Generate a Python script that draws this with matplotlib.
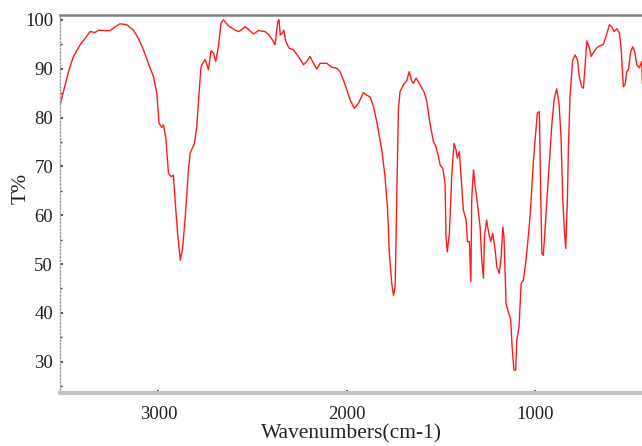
import matplotlib
matplotlib.use('Agg')
import matplotlib.pyplot as plt
from matplotlib.ticker import MultipleLocator

# IR spectrum (wavenumber, transmittance)
wavenumbers = [3520, 3505, 3478, 3452, 3416, 3390, 3363, 3337, 3319, 3283, 3257, 3230, 3204, 3169,
               3133, 3107, 3080, 3054, 3027, 3009, 2997, 2982, 2974, 2961, 2947, 2933, 2921, 2908,
               2897, 2884, 2873, 2859, 2841, 2832, 2809, 2797, 2788, 2775, 2770, 2752, 2735, 2721,
               2708, 2696, 2682, 2668, 2655, 2629, 2593, 2572, 2540, 2523, 2496, 2470, 2434, 2413,
               2395, 2381, 2366, 2360, 2353, 2342, 2335, 2324, 2306, 2284, 2257, 2230, 2212, 2195,
               2177, 2159, 2142, 2106, 2080, 2053, 2036, 2018, 2000, 1982, 1960, 1938, 1912, 1894,
               1876, 1859, 1841, 1814, 1797, 1784, 1774, 1761, 1752, 1743, 1738, 1731, 1726, 1717,
               1699, 1681, 1668, 1655, 1646, 1632, 1611, 1590, 1575, 1558, 1540, 1526, 1513, 1504,
               1490, 1478, 1473, 1466, 1455, 1442, 1430, 1420, 1413, 1402, 1393, 1381, 1366, 1359,
               1349, 1341, 1336, 1327, 1319, 1306, 1292, 1283, 1274, 1269, 1257, 1246, 1235, 1225,
               1212, 1203, 1190, 1180, 1171, 1165, 1154, 1142, 1129, 1122, 1112, 1103, 1097, 1085,
               1074, 1062, 1048, 1036, 1026, 1009, 996, 988, 977, 970, 964, 956, 942, 924,
               911, 899, 885, 872, 862, 853, 844, 837, 828, 823, 814, 800, 787, 775,
               765, 752, 743, 734, 725, 711, 702, 687, 672, 655, 637, 623, 605, 593,
               580, 566, 552, 543, 536, 531, 522, 513, 504, 492, 481, 469, 460, 446,
               433, 430]
transmittance = [83.0, 85.3, 89.4, 92.5, 94.9, 96.2, 97.6, 97.4, 97.9, 97.8, 97.8, 98.6, 99.2, 99.0,
                 97.9, 96.2, 93.9, 91.1, 88.4, 85.0, 78.8, 78.0, 78.5, 75.8, 68.6, 67.9, 68.2, 61.1,
                 55.6, 50.8, 52.9, 59.0, 69.3, 72.7, 74.7, 78.1, 82.9, 90.1, 90.8, 91.9, 89.8, 93.7,
                 93.2, 91.5, 94.5, 99.3, 100.0, 98.8, 97.9, 97.6, 98.6, 98.1, 97.1, 97.8, 97.6, 96.9,
                 95.9, 94.9, 99.7, 100.0, 96.9, 97.3, 97.9, 95.6, 94.2, 93.9, 92.5, 90.8, 91.5, 92.5,
                 91.1, 89.9, 91.1, 91.1, 90.3, 90.1, 89.4, 87.7, 85.7, 83.6, 81.9, 82.9, 85.1, 84.6,
                 84.2, 82.4, 79.2, 73.4, 67.9, 61.7, 52.2, 46.0, 43.6, 45.3, 56.3, 71.3, 81.6, 85.3,
                 86.7, 87.6, 89.4, 87.4, 87.0, 88.1, 86.7, 85.3, 83.3, 78.8, 75.1, 74.0, 72.0, 70.3,
                 69.6, 66.5, 55.6, 52.5, 56.3, 68.6, 74.7, 73.4, 71.7, 73.0, 67.9, 61.1, 59.0, 54.6,
                 54.6, 46.4, 63.8, 69.3, 66.2, 62.4, 57.6, 50.8, 47.1, 55.6, 59.0, 56.3, 54.6, 56.3,
                 52.9, 49.4, 48.1, 51.5, 57.6, 55.6, 41.9, 40.2, 38.5, 33.1, 28.3, 28.3, 34.4, 37.2,
                 46.0, 46.7, 50.8, 55.6, 60.0, 71.0, 77.1, 80.9, 81.2, 64.1, 52.2, 51.8, 60.0, 70.3,
                 78.5, 83.6, 85.9, 82.6, 75.8, 63.5, 56.6, 53.2, 63.5, 73.7, 84.6, 91.8, 92.8, 91.8,
                 88.4, 86.3, 86.0, 90.8, 95.7, 94.2, 92.5, 93.5, 94.3, 94.7, 95.0, 96.6, 99.0, 98.6,
                 97.6, 98.2, 97.3, 94.2, 89.4, 86.3, 86.7, 89.4, 89.8, 93.5, 94.5, 93.2, 90.8, 90.2,
                 91.5, 87.0]

x_ticks = [3000, 2000, 1000]
y_ticks = [30, 40, 50, 60, 70, 80, 90, 100]

plt.rcParams['font.family'] = ['Liberation Serif', 'DejaVu Serif']

fig = plt.figure(figsize=(6.42, 4.46), dpi=100)
ax = fig.add_axes([0.0935, 0.1188, 0.9065, 0.8476])

ax.plot(wavenumbers, transmittance, color='#ff1a1a', linewidth=1.0)

ax.set_xlim(3523, 432)
ax.set_ylim(23.6, 101)
ax.set_xticks(x_ticks)
ax.set_yticks(y_ticks)
ax.xaxis.set_minor_locator(MultipleLocator(250))
ax.yaxis.set_minor_locator(MultipleLocator(5))

ax.tick_params(which='both', direction='in', colors='#333333', labelcolor='#222222')
ax.tick_params(which='major', length=2.5, width=1.2, labelsize=13.5, pad=5)
ax.tick_params(which='minor', length=1.5, width=1.0)
ax.tick_params(axis='x', pad=9)

ax.spines['top'].set_color('#808080')
ax.spines['top'].set_linewidth(1.8)
ax.spines['bottom'].set_color('#c4c4c4')
ax.spines['bottom'].set_linewidth(3)
ax.spines['left'].set_color('#9a9a9a')
ax.spines['left'].set_linestyle((0, (1, 1.5)))
ax.spines['left'].set_linewidth(1.0)
ax.spines['right'].set_visible(False)

ax.set_xlabel('Wavenumbers(cm-1)', fontsize=15.5, color='#222222', labelpad=1)
ax.set_ylabel('T%', fontsize=15.5, color='#222222', va='center')
ax.yaxis.set_label_coords(-0.066, 0.54)

fig.savefig('out.png', dpi=100)
